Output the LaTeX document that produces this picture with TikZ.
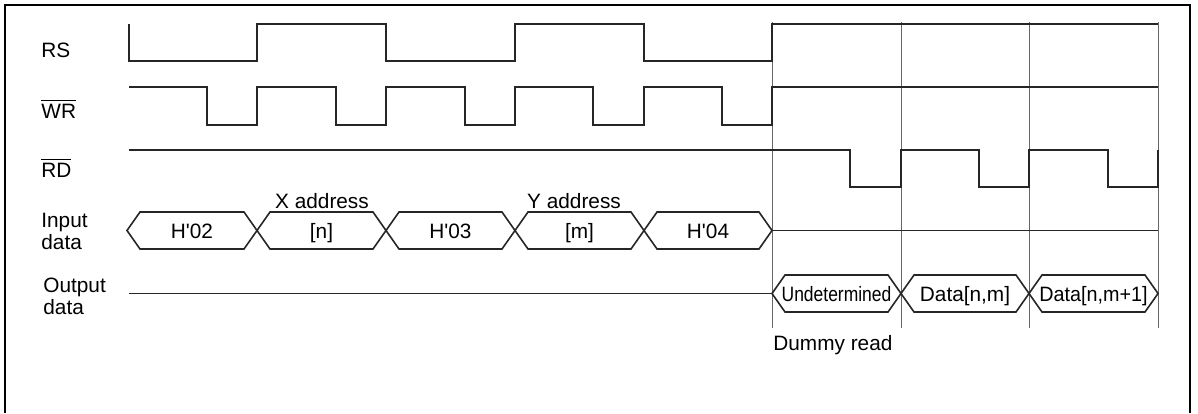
\documentclass[tikz,border=0pt]{standalone}
\usepackage{fontspec}
\setmainfont{Liberation Sans}
\usepackage{graphicx}
\begin{document}
\begin{tikzpicture}
  [x=0.5pt,y=-0.5pt,
   sig/.style={line width=1pt,black!85},
   bus/.style={line width=0.8pt,black!85},
   divider/.style={line width=0.5pt,black!60},
   every node/.style={inner sep=0pt,font=\fontsize{10.4}{10.8}\selectfont}]
  \useasboundingbox (0,0) rectangle (1198,413);
  \draw[line width=0.8pt] (5,413) -- (5,5) -- (1190,5) -- (1190,413);

  % signal names
  \node[anchor=base west] (rs) at (41,57) {RS};
  \node[anchor=base west] (wr) at (41,118) {$\overline{\mbox{WR}}$};
  \node[anchor=base west] (rd) at (41,177) {$\overline{\mbox{RD}}$};
  \node[anchor=north west,align=left] (din) at (41,213) {Input\\data};
  \node[anchor=north west,align=left] (dout) at (43,278) {Output\\data};

  % dividers
  \foreach \x in {772,901,1029,1158}
    \draw[divider] (\x,22) -- (\x,328);

  % RS
  \draw[sig] (129,24) -- (129,61) -- (257,61) -- (257,24) -- (386,24) -- (386,61)
    -- (515,61) -- (515,24) -- (644,24) -- (644,61) -- (772,61) -- (772,24) -- (1158,24);
  % WR
  \draw[sig] (129,87) -- (207,87) -- (207,125) -- (257,125) -- (257,87) -- (336,87)
    -- (336,125) -- (386,125) -- (386,87) -- (465,87) -- (465,125) -- (515,125)
    -- (515,87) -- (593,87) -- (593,125) -- (644,125) -- (644,87) -- (722,87)
    -- (722,125) -- (772,125) -- (772,87) -- (1158,87);
  % RD
  \draw[sig] (129,150) -- (850,150) -- (850,187) -- (901,187) -- (901,150) -- (979,150)
    -- (979,187) -- (1029,187) -- (1029,150) -- (1108,150) -- (1108,187) -- (1158,187)
    -- (1158,150);

  % input data
  \foreach \a/\b/\txt/\nm in {127/257/H\textquotesingle 02/h02,257/386/{[n]}/xn,
                              386/515/H\textquotesingle 03/h03,515/644/{[m]}/ym,
                              644/772/H\textquotesingle 04/h04}
  {
    \draw[bus] (\a,230.5) -- (\a+13,212) -- (\b-13,212) -- (\b,230.5)
      -- (\b-13,249) -- (\a+13,249) -- cycle;
    \node[anchor=base] (\nm) at ({(\a+\b)/2},238) {\txt};
  }
  \node[anchor=base] (xaddr) at (322,208) {X address};
  \node[anchor=base] (yaddr) at (574,208) {Y address};
  \draw[bus] (772,230.5) -- (1158,230.5);

  % output data
  \draw[bus] (129,293.5) -- (772,293.5);
  \foreach \a/\b/\txt/\nm in {772/901/{\scalebox{0.84}[1]{Undetermined}}/und,
                              901/1029/{Data[n,m]}/dnm,
                              1029/1158/{\scalebox{0.95}[1]{Data[n,m+1]}}/dnm1}
  {
    \draw[bus] (\a,293.5) -- (\a+13,275) -- (\b-13,275) -- (\b,293.5)
      -- (\b-13,312) -- (\a+13,312) -- cycle;
    \node[anchor=base] (\nm) at ({(\a+\b)/2},301) {\txt};
  }
  \node[anchor=base west] (dummy) at (773,350) {Dummy read};
\end{tikzpicture}
\end{document}
